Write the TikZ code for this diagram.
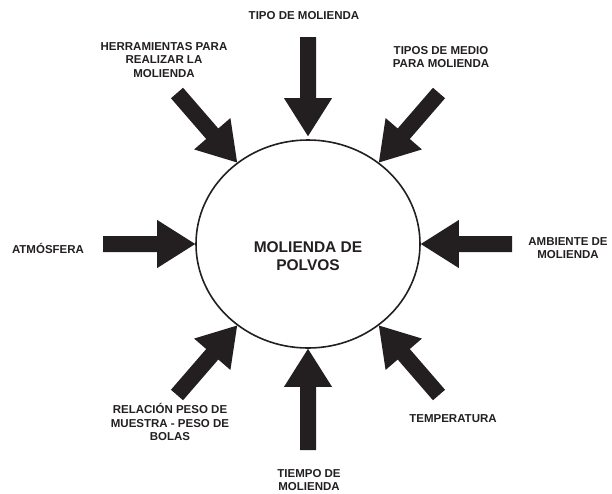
\documentclass[tikz,border=0pt]{standalone}
\usepackage{fontspec}
\setmainfont{Liberation Sans}
\usetikzlibrary{calc,shapes.geometric}
\definecolor{ink}{RGB}{35,31,32}
\newcommand\fatarrow[3]{%
  \coordinate (#1h) at ($(#3)!38pt!(#2)$);
  \fill[ink] ($(#2)!8pt!90:(#3)$) -- ($(#1h)!8pt!90:(#3)$) -- ($(#1h)!24pt!90:(#3)$) -- (#3)
    -- ($(#1h)!24pt!-90:(#3)$) -- ($(#1h)!8pt!-90:(#3)$) -- ($(#2)!8pt!-90:(#3)$) -- cycle;}
\tikzset{
  lbl/.style={text=ink, align=center, inner sep=0pt, font=\fontsize{11.5}{13.5}\selectfont\bfseries},
  hub/.style={ellipse, draw=ink, line width=1.6pt, minimum width=224pt, minimum height=208pt, inner sep=0pt}
}
\begin{document}
\begin{tikzpicture}[x=1pt,y=-1pt]
\useasboundingbox (0,0) rectangle (612,493);
\node[hub] (c) at (308,244) {};
\node[text=ink, align=center, inner sep=0pt, font=\fontsize{15.5}{18}\selectfont\bfseries] (ct) at (308,256) {MOLIENDA DE\\POLVOS};
% labels
\node[lbl] (l1) at (304,16) {TIPO DE MOLIENDA};
\node[lbl] (l2) at (164,60) {HERRAMIENTAS PARA\\REALIZAR LA\\MOLIENDA};
\node[lbl] (l3) at (441,57) {TIPOS DE MEDIO\\PARA MOLIENDA};
\node[lbl] (l4) at (48,248) {ATMÓSFERA};
\node[lbl] (l5) at (568,248) {AMBIENTE DE\\MOLIENDA};
\node[lbl] (l6) at (170,422) {RELACIÓN PESO DE\\MUESTRA - PESO DE\\BOLAS};
\node[lbl] (l7) at (453,419) {TEMPERATURA};
\node[lbl] (l8) at (309,480) {TIEMPO DE\\MOLIENDA};
% arrow tails
\coordinate (t1) at (308,37);
\coordinate (t2) at (177,93);
\coordinate (t3) at (439,93);
\coordinate (t4) at (103,244);
\coordinate (t5) at (512,244);
\coordinate (t6) at (177,395);
\coordinate (t7) at (439,395);
\coordinate (t8) at (308,450);
\coordinate (p1) at ($(c.north)+(0,-3)$);
\fatarrow{a1}{t1}{p1}
\fatarrow{a2}{t2}{c.131}
\fatarrow{a3}{t3}{c.49}
\fatarrow{a4}{t4}{c.west}
\fatarrow{a5}{t5}{c.east}
\fatarrow{a6}{t6}{c.-131}
\fatarrow{a7}{t7}{c.-49}
\fatarrow{a8}{t8}{c.south}
\end{tikzpicture}
\end{document}
